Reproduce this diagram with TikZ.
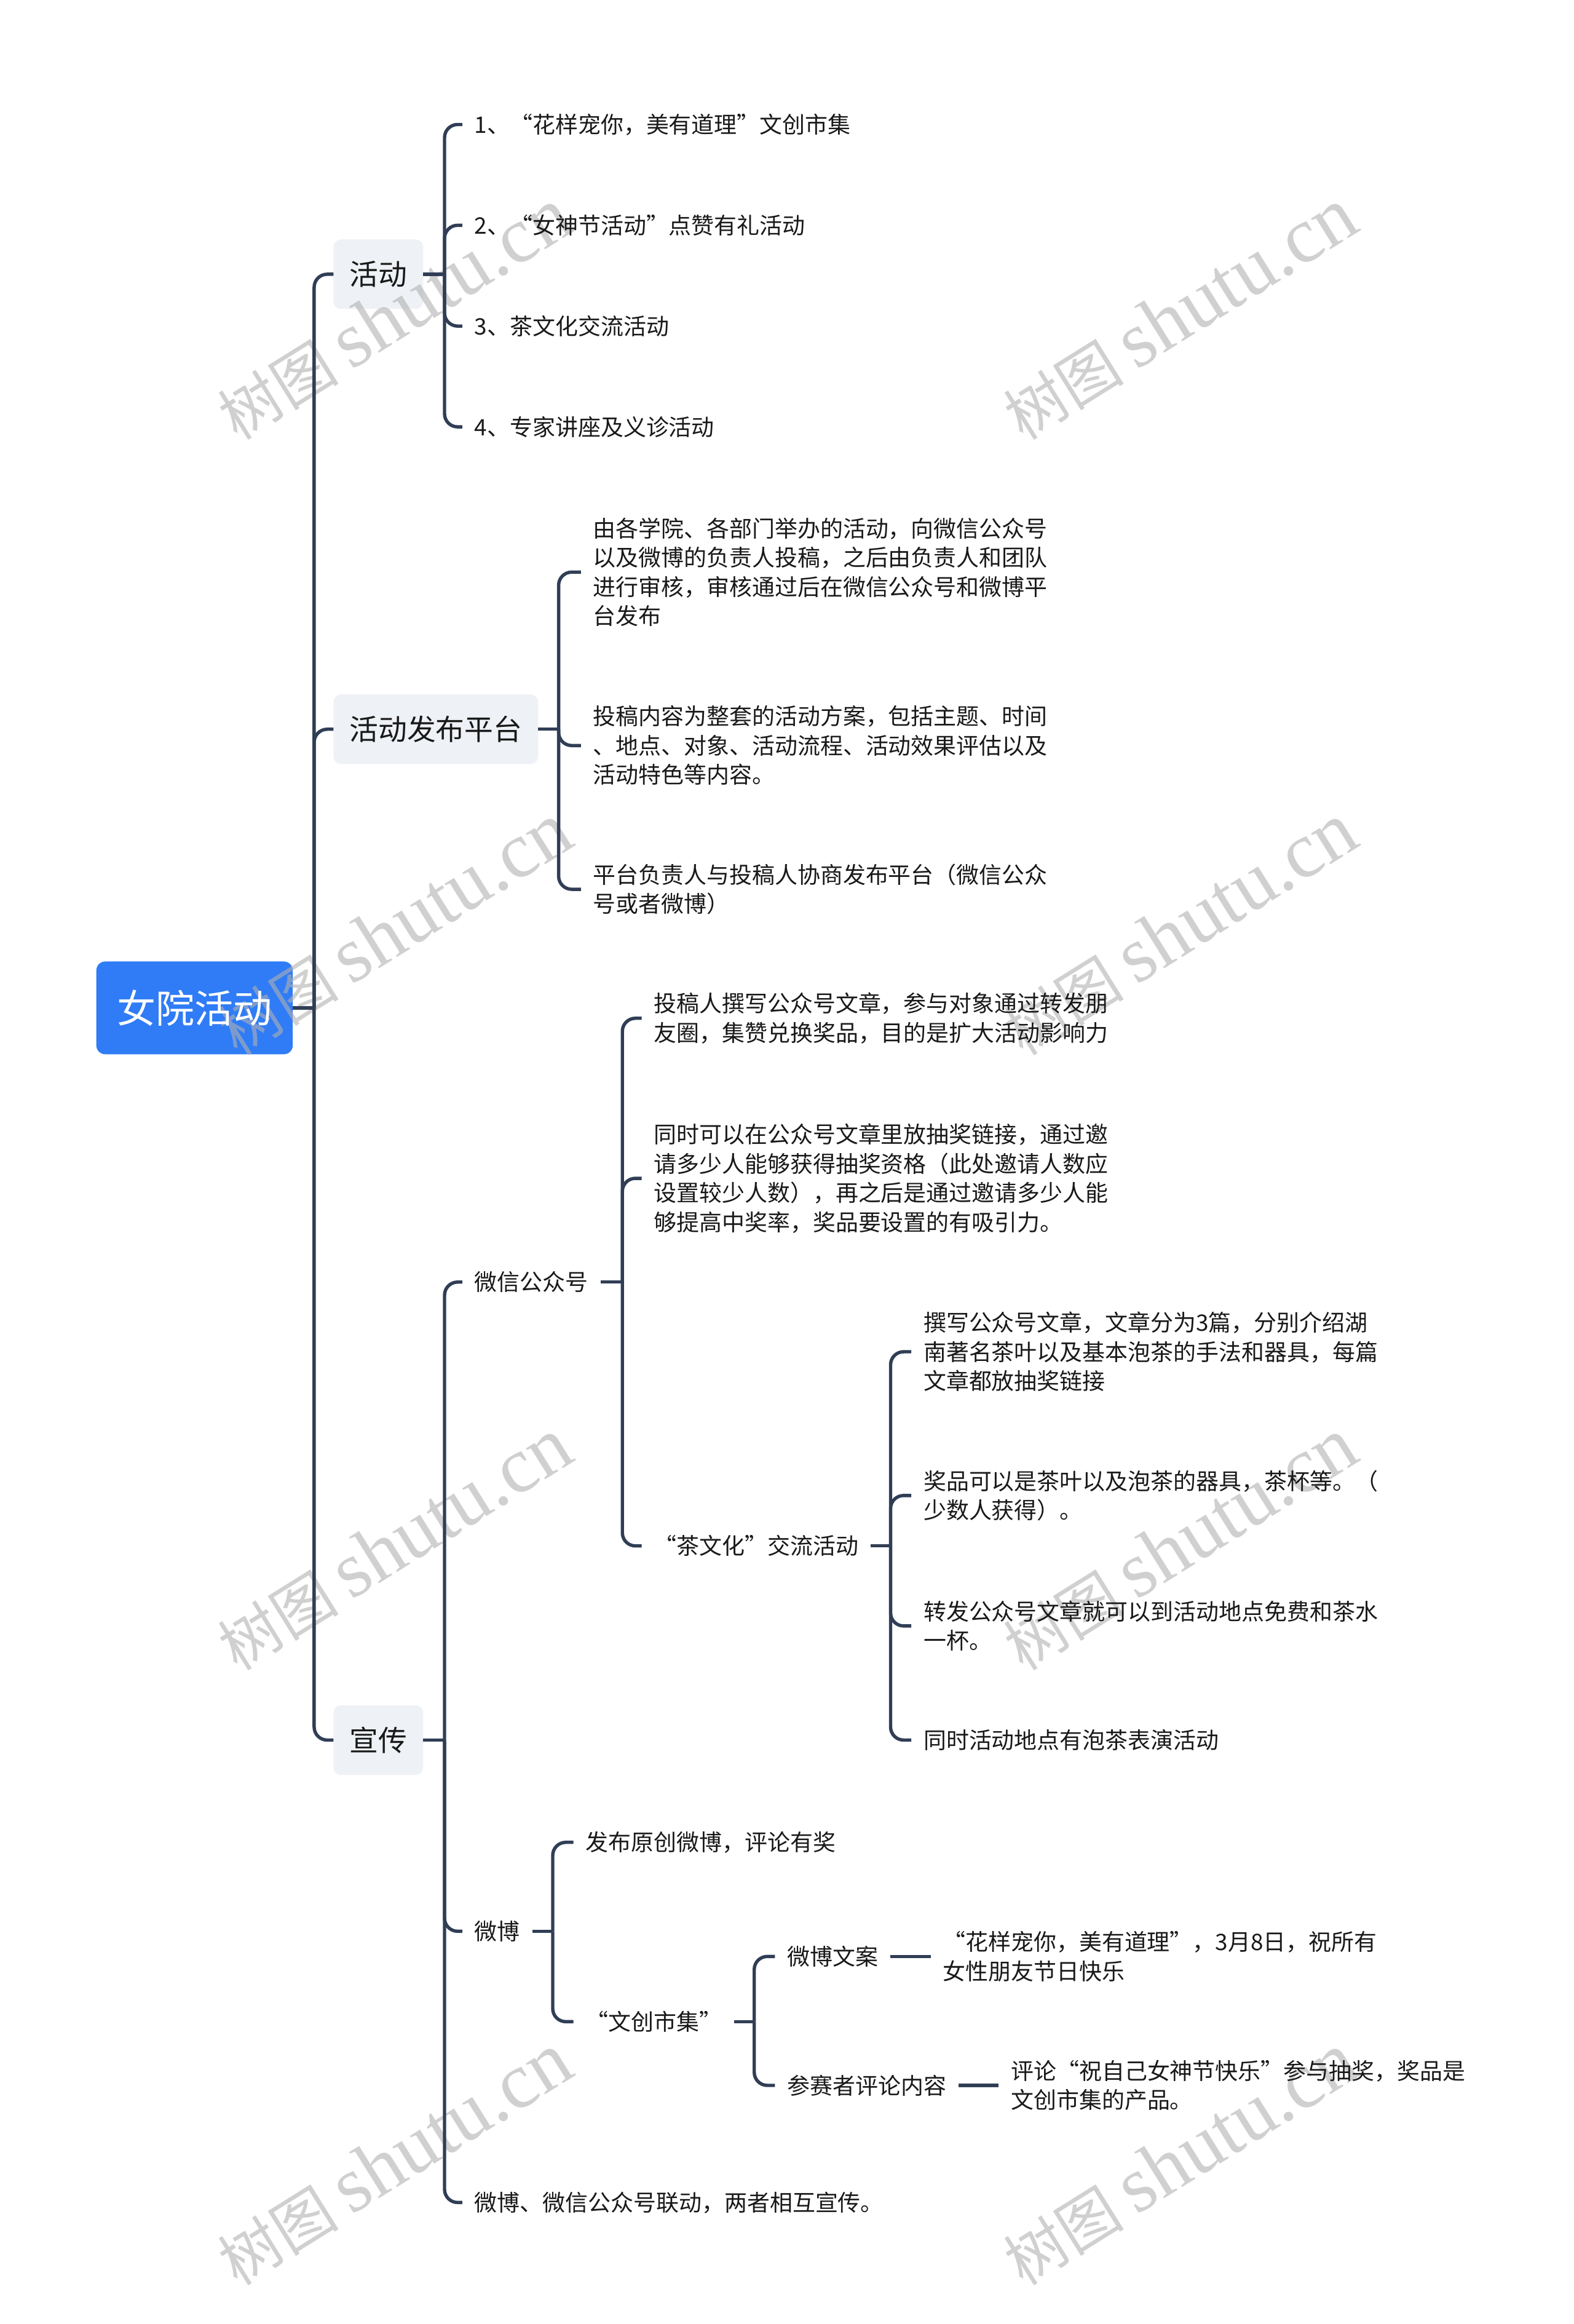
\documentclass[tikz,border=0pt]{standalone}
\usepackage{fontspec}
\setmainfont{Noto Sans CJK SC}
\newfontfamily\wmfont{Liberation Serif}
\usepackage{tikz}
\usetikzlibrary{positioning}
\definecolor{rootB}{RGB}{47,124,246}
\definecolor{topG}{RGB}{238,241,245}
\definecolor{lineS}{RGB}{48,62,85}
\definecolor{txtK}{RGB}{25,25,25}
\definecolor{wmG}{RGB}{177,177,177}
\pgfdeclarelayer{boxfill}
\pgfdeclarelayer{wmlayer}
\pgfsetlayers{boxfill,wmlayer,main}

\begin{document}
\begin{tikzpicture}[
  x=0.025cm, y=-0.025cm,
  root/.style={text=white, anchor=west, minimum width=3.3cm, minimum height=1.55cm, font=\fontsize{18.6pt}{22pt}\selectfont},
  topic/.style={text=txtK, anchor=west, inner xsep=0.265cm, minimum height=1.16cm, font=\fontsize{13.8pt}{17pt}\selectfont},
  leaf/.style={text=txtK, anchor=west, align=left, inner xsep=0.2cm, inner ysep=0pt, font=\fontsize{10.9pt}{14pt}\selectfont},
  link/.style={draw=lineS, line width=1.6pt, rounded corners=0.22cm},
  wmark/.style={text=wmG, opacity=0.6, rotate=32, inner sep=0pt, font=\fontsize{38pt}{38pt}\selectfont}
]
\useasboundingbox (0,0) rectangle (1062,1568);

\node[root] (root) at (65,680) {女院活动};

\node[topic] (hd) at (225,185) {活动};
\node[topic] (pt) at (225,492) {活动发布平台};
\node[topic] (xc) at (225,1174) {宣传};

\node[leaf] (a1) at (312,84) {1、“花样宠你，美有道理”文创市集};
\node[leaf] (a2) at (312,152) {2、“女神节活动”点赞有礼活动};
\node[leaf] (a3) at (312,220) {3、茶文化交流活动};
\node[leaf] (a4) at (312,288) {4、专家讲座及义诊活动};

\node[leaf] (p1) at (392,386) {由各学院、各部门举办的活动，向微信公众号\\以及微博的负责人投稿，之后由负责人和团队\\进行审核，审核通过后在微信公众号和微博平\\台发布};
\node[leaf] (p2) at (392,503) {投稿内容为整套的活动方案，包括主题、时间\\、地点、对象、活动流程、活动效果评估以及\\活动特色等内容。};
\node[leaf] (p3) at (392,600) {平台负责人与投稿人协商发布平台（微信公众\\号或者微博）};

\node[leaf] (wx) at (312,865) {微信公众号};
\node[leaf] (wb) at (312,1303) {微博};
\node[leaf] (ld) at (312,1486) {微博、微信公众号联动，两者相互宣传。};

\node[leaf] (w1) at (433,687) {投稿人撰写公众号文章，参与对象通过转发朋\\友圈，集赞兑换奖品，目的是扩大活动影响力};
\node[leaf] (w2) at (433,795) {同时可以在公众号文章里放抽奖链接，通过邀\\请多少人能够获得抽奖资格（此处邀请人数应\\设置较少人数），再之后是通过邀请多少人能\\够提高中奖率，奖品要设置的有吸引力。};
\node[leaf] (cw) at (433,1043) {“茶文化”交流活动};

\node[leaf] (c1) at (615,912) {撰写公众号文章，文章分为3篇，分别介绍湖\\南著名茶叶以及基本泡茶的手法和器具，每篇\\文章都放抽奖链接};
\node[leaf] (c2) at (615,1009) {奖品可以是茶叶以及泡茶的器具，茶杯等。（\\少数人获得）。};
\node[leaf] (c3) at (615,1097) {转发公众号文章就可以到活动地点免费和茶水\\一杯。};
\node[leaf] (c4) at (615,1174) {同时活动地点有泡茶表演活动};

\node[leaf] (b1) at (387,1243) {发布原创微博，评论有奖};
\node[leaf] (wc) at (387,1364) {“文创市集”};

\node[leaf] (wa) at (523,1320) {微博文案};
\node[leaf] (pl) at (523,1407) {参赛者评论内容};
\node[leaf] (wat) at (628,1320) {“花样宠你，美有道理”，3月8日，祝所有\\女性朋友节日快乐};
\node[leaf] (plt) at (674,1407) {评论“祝自己女神节快乐”参与抽奖，奖品是\\文创市集的产品。};

\begin{pgfonlayer}{boxfill}
\fill[rootB, rounded corners=0.15cm] (root.south west) rectangle (root.north east);
\fill[topG, rounded corners=0.13cm] (hd.south west) rectangle (hd.north east);
\fill[topG, rounded corners=0.13cm] (pt.south west) rectangle (pt.north east);
\fill[topG, rounded corners=0.13cm] (xc.south west) rectangle (xc.north east);
\end{pgfonlayer}

\coordinate (j0) at (212,680);
\coordinate (j1) at (300,185);
\coordinate (j2) at (377,492);
\coordinate (j3) at (300,1174);
\coordinate (j4) at (420,865);
\coordinate (j5) at (601,1043);
\coordinate (j6) at (373,1303);
\coordinate (j7) at (509,1364);

\draw[link] (root.east) -- (j0);
\draw[link] (j0) |- (hd.west);
\draw[link] (j0) |- (pt.west);
\draw[link] (j0) |- (xc.west);

\draw[link] (hd.east) -- (j1);
\draw[link] (j1) |- (a1.west);
\draw[link] (j1) |- (a2.west);
\draw[link] (j1) |- (a3.west);
\draw[link] (j1) |- (a4.west);

\draw[link] (pt.east) -- (j2);
\draw[link] (j2) |- (p1.west);
\draw[link] (j2) |- (p2.west);
\draw[link] (j2) |- (p3.west);

\draw[link] (xc.east) -- (j3);
\draw[link] (j3) |- (wx.west);
\draw[link] (j3) |- (wb.west);
\draw[link] (j3) |- (ld.west);

\draw[link] (wx.east) -- (j4);
\draw[link] (j4) |- (w1.west);
\draw[link] (j4) |- (w2.west);
\draw[link] (j4) |- (cw.west);

\draw[link] (cw.east) -- (j5);
\draw[link] (j5) |- (c1.west);
\draw[link] (j5) |- (c2.west);
\draw[link] (j5) |- (c3.west);
\draw[link] (j5) |- (c4.west);

\draw[link] (wb.east) -- (j6);
\draw[link] (j6) |- (b1.west);
\draw[link] (j6) |- (wc.west);

\draw[link] (wc.east) -- (j7);
\draw[link] (j7) |- (wa.west);
\draw[link] (j7) |- (pl.west);

\draw[link] (wa.east) -- (wat.west);
\draw[link] (pl.east) -- (plt.west);

\begin{pgfonlayer}{wmlayer}
\node[wmark] (wm1) at (266,212) {{\fontsize{29pt}{29pt}\selectfont 树图}\,{\wmfont shutu.cn}};
\node[wmark] (wm2) at (796,212) {{\fontsize{29pt}{29pt}\selectfont 树图}\,{\wmfont shutu.cn}};
\node[wmark] (wm3) at (266,627) {{\fontsize{29pt}{29pt}\selectfont 树图}\,{\wmfont shutu.cn}};
\node[wmark] (wm4) at (796,627) {{\fontsize{29pt}{29pt}\selectfont 树图}\,{\wmfont shutu.cn}};
\node[wmark] (wm5) at (266,1042) {{\fontsize{29pt}{29pt}\selectfont 树图}\,{\wmfont shutu.cn}};
\node[wmark] (wm6) at (796,1042) {{\fontsize{29pt}{29pt}\selectfont 树图}\,{\wmfont shutu.cn}};
\node[wmark] (wm7) at (266,1457) {{\fontsize{29pt}{29pt}\selectfont 树图}\,{\wmfont shutu.cn}};
\node[wmark] (wm8) at (796,1457) {{\fontsize{29pt}{29pt}\selectfont 树图}\,{\wmfont shutu.cn}};
\end{pgfonlayer}
\end{tikzpicture}
\end{document}
